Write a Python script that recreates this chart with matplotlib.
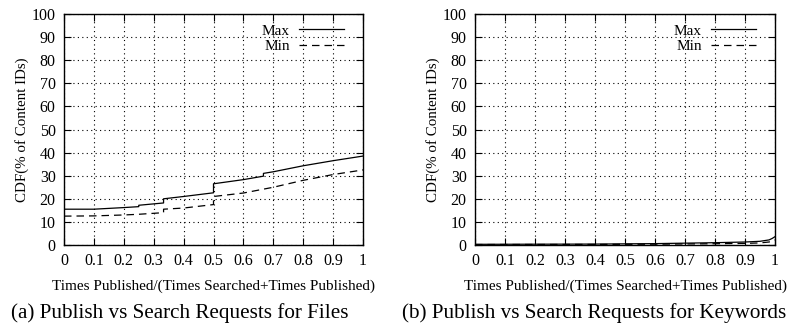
import matplotlib.pyplot as plt
import numpy as np

plt.rcParams['font.family'] = ['Liberation Serif', 'DejaVu Serif']

# (a) files
files_x = [0, 0.1, 0.2, 0.25, 0.25, 0.333, 0.333, 0.4, 0.5, 0.5, 0.6, 0.667, 0.667, 0.7, 0.75, 0.8, 0.9, 1.0]
files_max = [15.5, 15.5, 16.2, 16.6, 17.2, 18.2, 20.0, 21.0, 22.6, 26.5, 28.3, 29.8, 31.0, 31.7, 33.0, 34.3, 36.5, 38.5]
files_min_x = [0, 0.1, 0.2, 0.25, 0.333, 0.333, 0.4, 0.5, 0.5, 0.6, 0.7, 0.8, 0.9, 1.0]
files_min = [12.5, 12.6, 13.0, 13.3, 14.0, 15.5, 16.0, 17.5, 21.0, 22.5, 25.0, 28.0, 30.5, 32.5]

# (b) keywords
kw_x = [0, 0.2, 0.4, 0.5, 0.6, 0.7, 0.8, 0.9, 0.95, 0.98, 0.99, 1.0]
kw_max = [0.3, 0.35, 0.4, 0.5, 0.6, 0.8, 1.0, 1.3, 1.6, 2.2, 2.8, 3.6]
kw_min = [0.2, 0.22, 0.25, 0.3, 0.35, 0.45, 0.55, 0.7, 0.9, 1.3, 1.6, 2.2]

xticks = np.round(np.arange(0, 1.01, 0.1), 1)
xticklabels = ['0', '0.1', '0.2', '0.3', '0.4', '0.5', '0.6', '0.7', '0.8', '0.9', '1']
yticks = list(range(0, 101, 10))

captions = ['(a) Publish vs Search Requests for Files',
            '(b) Publish vs Search Requests for Keywords']

fig = plt.figure(figsize=(7.88, 3.29), dpi=100)
W, H = 788, 329
boxes = [(64, 14, 363, 245), (475, 14, 775, 245)]
cap_x = [180, 594]
data = [(files_x, files_max, files_min_x, files_min), (kw_x, kw_max, kw_x, kw_min)]

for i, (l, t, r, b) in enumerate(boxes):
    ax = fig.add_axes([l / W, 1 - b / H, (r - l) / W, (b - t) / H])
    mx, my, nx, ny = data[i]
    ax.plot(mx, my, color='black', lw=0.9, label='Max')
    ax.plot(nx, ny, color='black', lw=0.9, ls=(0, (6, 4)), label='Min')
    ax.set_xlim(0, 1)
    ax.set_ylim(0, 100)
    ax.set_xticks(xticks)
    ax.set_xticklabels(xticklabels)
    ax.set_yticks(yticks)
    ax.tick_params(direction='in', length=5, width=0.8, top=True, right=True,
                   labelsize=11.5, pad=6)
    ax.grid(True, color='black', ls=(0, (1, 3)), lw=0.8)
    for s in ax.spines.values():
        s.set_linewidth(1.0)
    ax.set_xlabel('Times Published/(Times Searched+Times Published)', fontsize=11, labelpad=7)
    ax.set_ylabel('CDF(% of Content IDs)', fontsize=10.8, labelpad=2)
    leg = ax.legend(loc='upper right', bbox_to_anchor=(1 - 9 / (r - l), 1),
                    frameon=False, markerfirst=False, fontsize=11,
                    handlelength=2.95, handletextpad=0.6, borderaxespad=0.45,
                    borderpad=0.2, labelspacing=0.1)
    for txt in leg.get_texts():
        txt.set_ha('right')
    fig.text(cap_x[i] / W, 1 - 313 / H, captions[i], ha='center', va='center', fontsize=15.2)

fig.savefig('out.png', dpi=100)
